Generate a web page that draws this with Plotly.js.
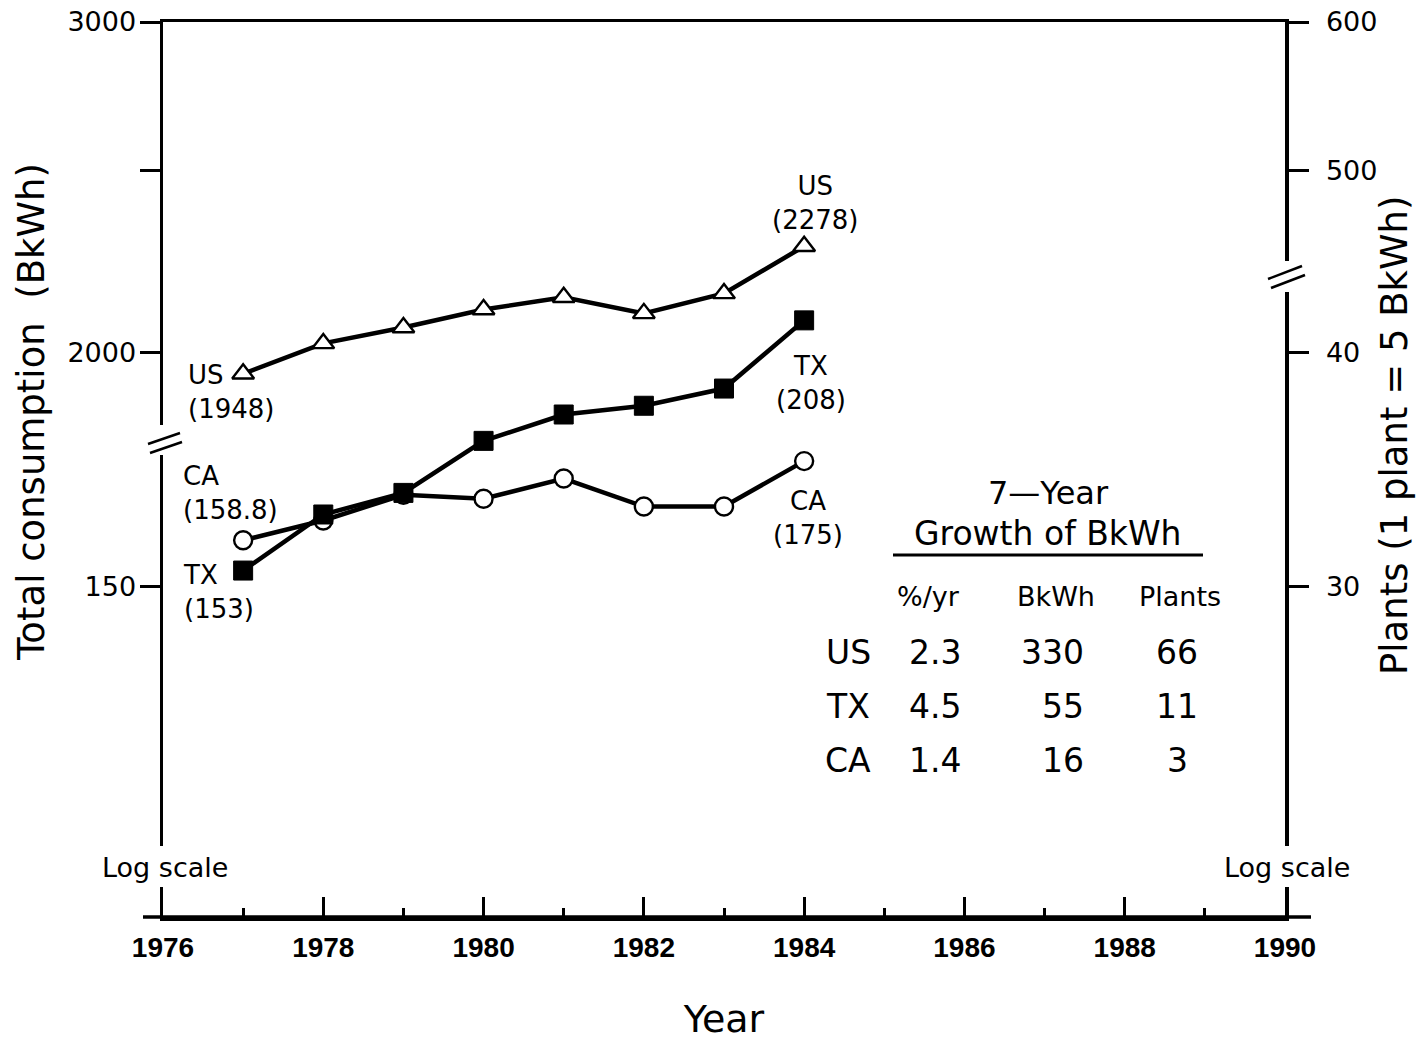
<!DOCTYPE html>
<html>
<head>
<meta charset="utf-8">
<script src="https://cdn.plot.ly/plotly-3.0.1.min.js"></script>
<style>
  html, body { margin: 0; padding: 0; background: #fff; }
  #chart { width: 1428px; height: 1043px; }
</style>
</head>
<body>
<div id="chart"></div>
<script>
// ---- data ----
const years = [1977, 1978, 1979, 1980, 1981, 1982, 1983, 1984];
const usBkWh = [1948, 2022, 2062, 2108, 2140, 2098, 2150, 2278];
const txBkWh = [153, 163.9, 168.3, 179.4, 185.3, 187.3, 191.3, 208];
const caBkWh = [158.8, 162.7, 167.9, 167.1, 171.3, 165.5, 165.5, 175];

// broken log axis: the upper section (US) is labelled at 10x the lower section
const upperFactor = 10;
const bkwhPerPlant = 5;

// left axis ticks
const leftLowerTicks = [150];
const leftUpperTicks = [2000, 2500, 3000];
const leftUpperLabels = ['2000', '', '3000'];
// right axis ticks (plants)
const rightLowerTicks = [30, 40];
const rightUpperTicks = [500, 600];

const xTickYears = [1976, 1978, 1980, 1982, 1984, 1986, 1988, 1990];

// growth table
const tableRows = ['US', 'TX', 'CA'];
const tablePct = ['2.3', '4.5', '1.4'];
const tableBkWh = ['330', '55', '16'];
const tablePlants = ['66', '11', '3'];
const tableHeaders = ['%/yr', 'BkWh', 'Plants'];

// ---- derived ----
const usPlot = usBkWh.map(v => v / upperFactor);
const leftVals = leftLowerTicks.concat(leftUpperTicks.map(v => v / upperFactor));
const leftText = leftLowerTicks.map(String).concat(leftUpperLabels);
const rightVals = rightLowerTicks.map(p => p * bkwhPerPlant)
  .concat(rightUpperTicks.map(p => p * bkwhPerPlant / upperFactor));
const rightText = rightLowerTicks.map(String).concat(rightUpperTicks.map(String));

const FONT = 'DejaVu Sans, sans-serif';
const XFONT = 'Liberation Sans, Arial, sans-serif';
const L = 163, R = 1285, T = 22, B = 917;
const px = x => (x - L) / (R - L);
const py = y => (B - y) / (B - T);

const lineStyle = {color: '#000', width: 4.5};

const traces = [
  {x: years, y: usPlot, type: 'scatter', mode: 'lines+markers', yaxis: 'y',
   line: lineStyle, marker: {symbol: 'triangle-up', size: 19, color: '#fff', line: {color: '#000', width: 2.4}},
   hoverinfo: 'skip'},
  {x: years, y: txBkWh, type: 'scatter', mode: 'lines+markers', yaxis: 'y2',
   line: lineStyle, marker: {symbol: 'square', size: 19, color: '#000', line: {color: '#000', width: 1}},
   hoverinfo: 'skip'},
  {x: years, y: caBkWh, type: 'scatter', mode: 'lines+markers', yaxis: 'y',
   line: lineStyle, marker: {symbol: 'circle', size: 18, color: '#fff', line: {color: '#000', width: 2.4}},
   hoverinfo: 'skip'}
];

const lg = v => Math.log10(v);
const labFont = {family: FONT, size: 26, color: '#000'};
function pointLabel(name, val, year, plotVal, xshift, yshift, anchor) {
  return {x: year, y: lg(plotVal), xref: 'x', yref: 'y', text: name + '<br>(' + val + ')',
    showarrow: false, xanchor: anchor, yanchor: 'middle', align: anchor === 'left' ? 'left' : 'center',
    xshift: xshift, yshift: yshift, font: labFont};
}
function ptext(x, y, text, size, xanchor, extra) {
  return Object.assign({x: px(x), y: py(y), xref: 'paper', yref: 'paper', text: text, showarrow: false,
    xanchor: xanchor || 'center', yanchor: 'middle', font: {family: FONT, size: size, color: '#000'}}, extra || {});
}
const n = years.length - 1;
const annotations = [
  pointLabel('US', usBkWh[0], years[0], usPlot[0], -57, -18, 'left'),
  pointLabel('US', usBkWh[n], years[n], usPlot[n], 11, 43, 'center'),
  pointLabel('TX', txBkWh[n], years[n], txBkWh[n], 7, -63, 'center'),
  pointLabel('CA', caBkWh[n], years[n], caBkWh[n], 4, -57, 'center'),
  pointLabel('CA', caBkWh[0], years[0], caBkWh[0], -62, 47, 'left'),
  pointLabel('TX', txBkWh[0], years[0], txBkWh[0], -62, -21, 'left'),
  // log scale notes
  ptext(165, 867, 'Log scale', 27, 'center', {bgcolor: '#fff'}),
  ptext(1287, 867, 'Log scale', 27, 'center', {bgcolor: '#fff'}),
  // y-axis titles
  ptext(31, 412, 'Total consumption&nbsp;&nbsp;(BkWh)', 37, 'center', {textangle: -90}),
  ptext(1394, 435, 'Plants (1 plant = 5 BkWh)', 37, 'center', {textangle: -90}),
  // table title
  ptext(1048, 493, '7\u2014Year', 32),
  ptext(1048, 533, 'Growth of BkWh', 33)
];
const headerX = [928, 1056, 1180];
tableHeaders.forEach((h, i) => annotations.push(ptext(headerX[i], 596, h, 27)));
const rowY = [652, 706, 760];
const colX = [848, 935, 1052, 1177];
tableRows.forEach((r, i) => {
  const cells = [r, tablePct[i], tableBkWh[i], tablePlants[i]];
  cells.forEach((c, j) => {
    if (j === 2) annotations.push(ptext(1086, rowY[i], c, 33, 'right'));
    else annotations.push(ptext(colX[j], rowY[i], c, 33, 'center'));
  });
});

function pline(x0, y0, x1, y1, w) {
  return {type: 'line', xref: 'paper', yref: 'paper', x0: px(x0), y0: py(y0), x1: px(x1), y1: py(y1),
    line: {color: '#000', width: w || 2.5}, layer: 'above'};
}
function wrect(x0, y0, x1, y1) {
  return {type: 'rect', xref: 'paper', yref: 'paper', x0: px(x0), y0: py(y0), x1: px(x1), y1: py(y1),
    fillcolor: '#fff', line: {width: 0}, layer: 'above'};
}
const shapes = [
  // extended bottom axis line
  pline(143, B, 1311, B, 3.5),
  // axis breaks
  wrect(156, 425, 171, 455),
  pline(148, 444, 180, 433), pline(150, 453, 182, 442),
  wrect(1278, 261, 1293, 292),
  pline(1268, 279, 1302, 266), pline(1271, 288, 1305, 275),
  // gaps for "Log scale"
  wrect(156, 846, 171, 887),
  wrect(1278, 846, 1293, 887),
  // table underline
  pline(893, 555, 1203, 555, 3)
];

const layout = {
  width: 1428, height: 1043,
  margin: {l: L, r: 1428 - R, t: T, b: 1043 - B},
  paper_bgcolor: '#fff', plot_bgcolor: '#fff',
  showlegend: false,
  font: {family: FONT, color: '#000'},
  xaxis: {
    range: [1976, 1990], tickvals: xTickYears, ticktext: xTickYears.map(String),
    ticks: 'inside', ticklen: 20, tickwidth: 3, tickcolor: '#000',
    minor: {dtick: 1, tick0: 1977, ticks: 'inside', ticklen: 9, tickwidth: 3, tickcolor: '#000', showgrid: false},
    showline: true, linecolor: '#000', linewidth: 3.5, mirror: true,
    showgrid: false, zeroline: false, ticklabelstandoff: 3,
    tickfont: {family: XFONT, size: 28, color: '#000', weight: 'bold'},
    title: {text: 'Year', font: {family: FONT, size: 38, color: '#000'}, standoff: 44}
  },
  yaxis: {
    type: 'log', range: [2, Math.log10(300)],
    tickvals: leftVals, ticktext: leftText,
    ticks: 'outside', ticklen: 20, tickwidth: 3, tickcolor: '#000',
    showline: true, linecolor: '#000', linewidth: 3.5,
    showgrid: false, zeroline: false, ticklabelstandoff: -2,
    tickfont: {family: FONT, size: 27, color: '#000'}
  },
  yaxis2: {
    type: 'log', range: [2, Math.log10(300)], overlaying: 'y', side: 'right', anchor: 'x',
    tickvals: rightVals, ticktext: rightText,
    ticks: 'outside', ticklen: 20, tickwidth: 3, tickcolor: '#000',
    showline: true, linecolor: '#000', linewidth: 3.5,
    showgrid: false, zeroline: false, ticklabelstandoff: 12,
    tickfont: {family: FONT, size: 27, color: '#000'}
  },
  annotations: annotations,
  shapes: shapes
};

Plotly.newPlot('chart', traces, layout, {staticPlot: true});
</script>
</body>
</html>
